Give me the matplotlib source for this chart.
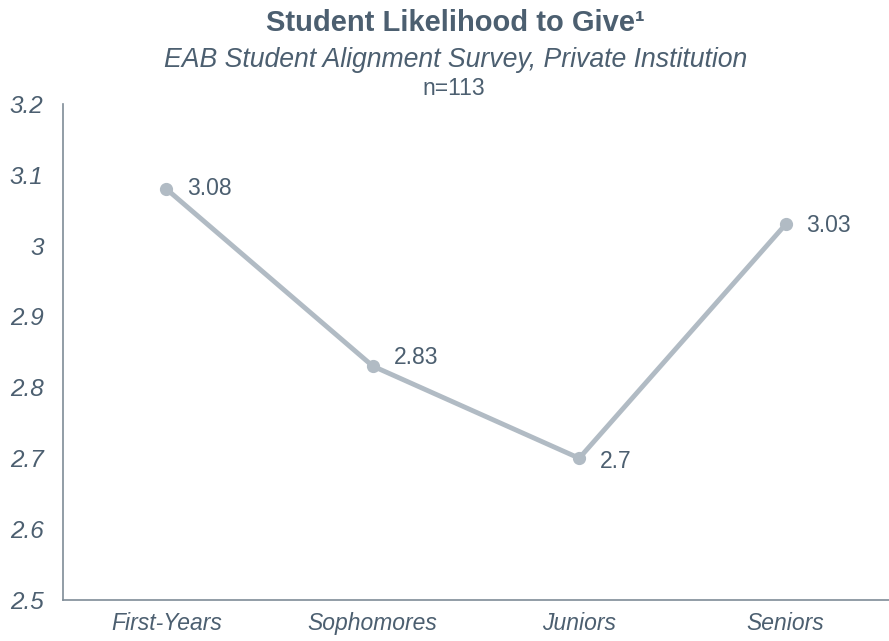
import matplotlib.pyplot as plt

# Data
categories = ['First-Years', 'Sophomores', 'Juniors', 'Seniors']
likelihood = [3.08, 2.83, 2.7, 3.03]
y_ticks = [2.5, 2.6, 2.7, 2.8, 2.9, 3.0, 3.1, 3.2]
y_tick_labels = ['2.5', '2.6', '2.7', '2.8', '2.9', '3', '3.1', '3.2']

# vertical nudge (points) of each value label
label_dy = [0, 6, -2, -1]

text_color = '#4c5f70'
line_color = '#b1bbc4'
axis_color = '#7f8c97'

plt.rcParams['font.family'] = ['Liberation Sans', 'DejaVu Sans']

fig = plt.figure(figsize=(8.89, 6.41), dpi=100)
ax = fig.add_axes([0.0709, 0.064, 0.929, 0.774])

x = list(range(len(categories)))
ax.plot(x, likelihood, color=line_color, linewidth=3.5, marker='o',
        markersize=8.5, markerfacecolor=line_color, markeredgecolor=line_color)

for xi, val, dy in zip(x, likelihood, label_dy):
    ax.annotate(f'{val:g}', (xi, val), xytext=(15, dy), textcoords='offset points',
                ha='left', va='center', fontsize=16.5, color=text_color)

ax.set_xlim(-0.5, 3.5)
ax.set_ylim(2.5, 3.2)
ax.set_xticks(x)
ax.set_xticklabels(categories, fontsize=16.5, style='italic', color=text_color)
ax.set_yticks(y_ticks)
ax.set_yticklabels(y_tick_labels, fontsize=17.5, style='italic', color=text_color)
ax.tick_params(axis='both', length=0)
ax.tick_params(axis='y', pad=14)
ax.tick_params(axis='x', pad=9)

for side in ['top', 'right']:
    ax.spines[side].set_visible(False)
for side in ['left', 'bottom']:
    ax.spines[side].set_color(axis_color)
    ax.spines[side].set_linewidth(1.2)

fig.text(0.512, 0.964, 'Student Likelihood to Give\u00b9', ha='center', va='center',
         fontsize=21, fontweight='bold', color=text_color)
fig.text(0.512, 0.906, 'EAB Student Alignment Survey, Private Institution', ha='center',
         va='center', fontsize=19.2, style='italic', color=text_color)
fig.text(0.51, 0.862, 'n=113', ha='center', va='center', fontsize=16.5, color=text_color)

plt.savefig('out.png', dpi=100)
